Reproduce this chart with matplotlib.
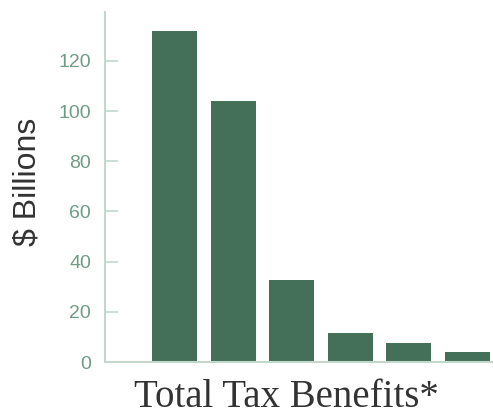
import matplotlib
matplotlib.use("Agg")
import matplotlib.pyplot as plt

categories = ["A", "B", "C", "D", "E", "F"]
values = [132, 104, 32.5, 11.5, 7.5, 4]
yticks = [0, 20, 40, 60, 80, 100, 120]

W, H = 493, 415
fig = plt.figure(figsize=(W / 100, H / 100), dpi=100)
ax = fig.add_axes([105 / W, 1 - 362 / H, (492 - 105) / W, (362 - 12) / H])

x = list(range(len(categories)))
ax.bar(x, values, width=0.77, color="#446f58")
ax.set_xlim(-1.19, 5.42)
ax.set_ylim(0, 139.5)

for s in ["top", "right"]:
    ax.spines[s].set_visible(False)
for s in ["left", "bottom"]:
    ax.spines[s].set_color("#c3d8cd")
    ax.spines[s].set_linewidth(1.5)

ax.set_xticks([])
ax.set_yticks(yticks)
ax.tick_params(axis="y", direction="in", length=9, width=1.2, color="#c3d8cd",
               labelcolor="#6f9c87", labelsize=14, pad=10)
for lab in ax.get_yticklabels():
    lab.set_fontfamily("Liberation Sans")

fig.text(28 / W, 1 - 182 / H, "$ Billions", rotation=90, ha="center", va="center",
         fontsize=23, color="#333333", family="Liberation Sans")
fig.text(286 / W, 1 - 397 / H, "Total Tax Benefits*", ha="center", va="center",
         fontsize=28, color="#333333", family="Liberation Serif")

fig.savefig("out.png", dpi=100)
